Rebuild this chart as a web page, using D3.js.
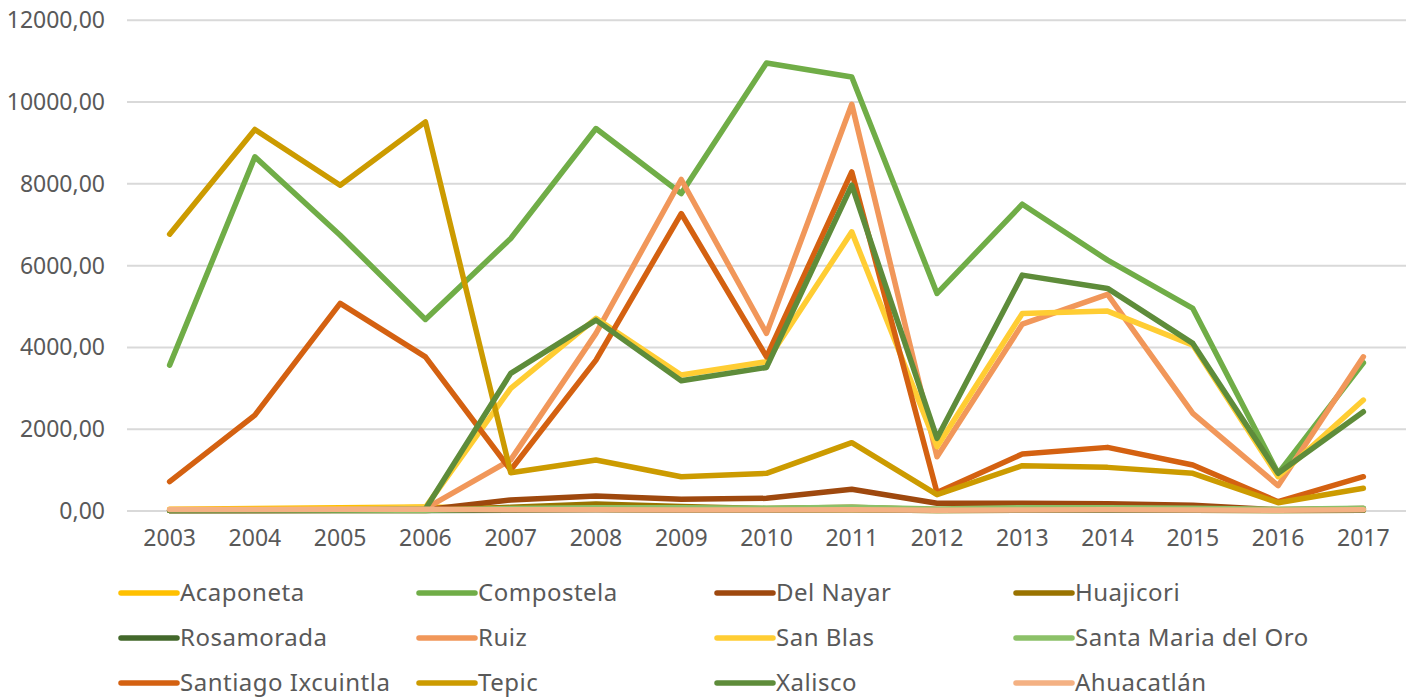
<!DOCTYPE html>
<html><head><meta charset="utf-8">
<script src="https://cdn.jsdelivr.net/npm/d3@7/dist/d3.min.js"></script>
<style>
html,body{margin:0;padding:0;background:#fff;}
svg text{font-family:"Noto Sans",sans-serif;fill:#595959;}
</style></head>
<body><svg id="c" width="1416" height="698"></svg>
<script>
const years = ["2003","2004","2005","2006","2007","2008","2009","2010","2011","2012","2013","2014","2015","2016","2017"];
const yTicks = [0,2000,4000,6000,8000,10000,12000];
const seriesNames = ["Acaponeta","Compostela","Del Nayar","Huajicori","Rosamorada","Ruiz","San Blas","Santa Maria del Oro","Santiago Ixcuintla","Tepic","Xalisco","Ahuacatlán"];
const seriesColors = ["#FFC000","#70AD47","#9E480E","#997300","#43682B","#F1975A","#FFCD33","#8CC168","#D46111","#CC9B00","#5E8C3A","#F4B183"];
const acaponeta = [40,60,80,100,60,40,30,20,30,10,20,20,20,10,20];
const compostela = [3568,8660,6745,4685,6664,9353,7765,10957,10614,5320,7503,6134,4954,921,3625];
const delNayar = [10,15,20,30,270,367,286,310,530,188,190,180,140,30,60];
const huajicori = [10,10,10,10,90,170,110,60,90,30,40,40,40,20,40];
const rosamorada = [10,10,10,10,20,30,20,20,30,10,20,20,20,10,20];
const ruiz = [20,25,30,60,1250,4343,8107,4343,9947,1327,4570,5296,2388,620,3771];
const sanBlas = [20,30,40,90,2998,4710,3324,3650,6826,1572,4832,4888,4057,839,2713];
const santaMaria = [20,20,20,20,60,80,80,70,90,50,80,80,70,40,70];
const santiago = [717,2346,5076,3771,1002,3690,7275,3771,8293,450,1393,1556,1124,228,839];
const tepic = [6770,9330,7967,9515,937,1246,838,921,1670,400,1108,1067,921,203,555];
const xalisco = [10,20,30,50,3365,4668,3185,3511,7967,1777,5768,5443,4098,921,2427];
const ahuacatlan = [35,38,40,42,30,28,25,22,30,20,25,28,26,20,30];
const seriesValues = [acaponeta,compostela,delNayar,huajicori,rosamorada,ruiz,sanBlas,santaMaria,santiago,tepic,xalisco,ahuacatlan];

const svg = d3.select("#c");
const L = 127, R = 1406, T = 20.3, B = 511;
const x = d3.scaleBand().domain(years).range([L,R]);
const y = d3.scaleLinear().domain([0,12000]).range([B,T]);
const fmt = v => d3.format(".2f")(v).replace(".",",");

// gridlines
svg.append("g").selectAll("line").data(yTicks).join("line")
  .attr("x1",L).attr("x2",R).attr("y1",d=>y(d)).attr("y2",d=>y(d))
  .attr("stroke","#D9D9D9").attr("stroke-width",2);

// y labels
const yAxis = d3.axisLeft(y).tickValues(yTicks).tickFormat(fmt).tickSize(0).tickPadding(0);
const gy = svg.append("g").attr("transform","translate(105,0)").call(yAxis);
gy.select(".domain").remove();
gy.selectAll("text").attr("font-size",23).attr("fill","#595959").style("font-family","'Noto Sans',sans-serif");

// x labels
const xAxis = d3.axisBottom(x).tickSize(0).tickPadding(0);
const gx = svg.append("g").attr("transform","translate(0,530)").call(xAxis);
gx.select(".domain").remove();
gx.selectAll("text").attr("font-size",23).attr("fill","#595959").attr("dy","0.71em").style("font-family","'Noto Sans',sans-serif");

// lines
const line = d3.line().x((d,i)=>x(years[i])+x.bandwidth()/2).y(d=>y(d));
svg.append("g").selectAll("path").data(seriesValues).join("path")
  .attr("d",d=>line(d)).attr("fill","none")
  .attr("stroke",(d,i)=>seriesColors[i]).attr("stroke-width",5.5)
  .attr("stroke-linecap","round").attr("stroke-linejoin","round");

// legend
const colX = [121,419,717,1016], rowY = [593,638,683];
const lg = svg.append("g").selectAll("g").data(seriesNames).join("g")
  .attr("transform",(d,i)=>`translate(${colX[i%4]},${rowY[Math.floor(i/4)]})`);
lg.append("line").attr("x1",0).attr("x2",56).attr("y1",0).attr("y2",0)
  .attr("stroke",(d,i)=>seriesColors[i]).attr("stroke-width",5.5).attr("stroke-linecap","round");
lg.append("text").attr("x",59).attr("y",0).attr("dy","0.35em").attr("font-size",24)
  .attr("letter-spacing",0.5).text(d=>d);
</script></body></html>
